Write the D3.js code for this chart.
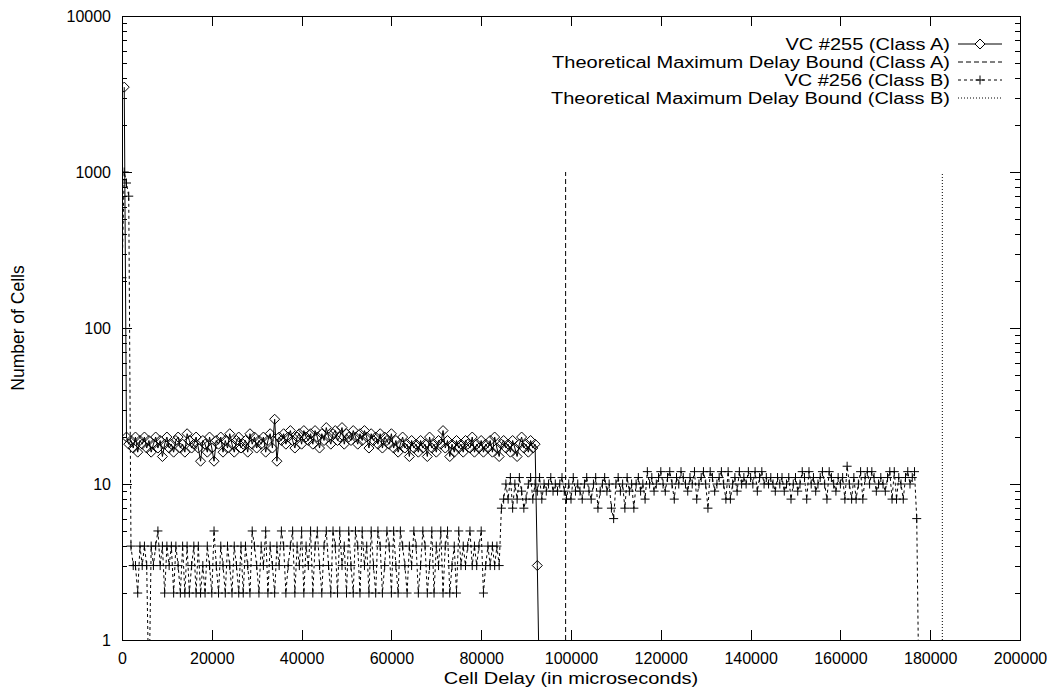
<!DOCTYPE html>
<html lang="en">
<head>
<meta charset="UTF-8">
<title>Cell delay distribution</title>
<style>
  body { margin: 0; background: #fff; }
  svg { display: block; font-family: "Liberation Sans", Arial, sans-serif; }
</style>
</head>
<body>
<script src="https://cdnjs.cloudflare.com/ajax/libs/d3/7.8.2/d3.min.js"></script>
<script>
// histogram bins are 500 microseconds wide
const binWidth = 500;

// VC #255 (Class A)
const vc255Spike = [{delay: 500, cells: 3500}];
const vc255Start = 1000;
const vc255Cells = [
  20,18,19,17,20,16,19,18,20,17, 19,16,18,20,17,19,15,18,20,17,
  18,16,19,20,17,18,16,21,19,17, 18,20,17,14,19,18,16,20,17,14,
  19,18,20,16,19,17,21,18,16,19, 20,17,18,19,16,21,18,20,17,19,
  18,20,16,19,21,17,26,14,20,19, 21,18,20,22,19,17,20,21,18,22,
  20,19,21,18,22,20,17,21,19,23, 20,18,21,22,19,20,23,18,21,20,
  19,22,20,18,21,19,22,20,17,21, 19,20,18,21,17,20,19,18,21,17,
  19,16,18,20,17,18,15,19,17,18, 16,19,17,18,15,20,17,18,16,19,
  18,22,17,19,15,18,16,19,17,18, 16,19,18,17,20,16,18,17,19,16,
  18,17,19,16,20,17,15,18,19,17, 18,16,19,17,15,18,20,17,18,16,
  19,17,18
];
const vc255Tail = [{delay: 92500, cells: 3}, {delay: 93000, cells: 0}];

// VC #256 (Class B)
const vc256Head = [
  {delay: 0, cells: 210}, {delay: 500, cells: 1000},
  {delay: 1000, cells: 850}, {delay: 1500, cells: 700}
];
const vc256LowStart = 2000;
const vc256Low = [
  4,3,3,2,4,3,4,3,0,4, 3,4,5,3,4,2,4,3,4,2,
  4,3,2,4,2,4,2,3,4,2, 4,2,3,2,4,3,2,5,3,2,
  4,3,2,4,3,2,4,3,2,4, 2,4,3,2,5,4,3,2,4,3,
  5,2,4,3,2,4,3,5,4,2, 3,4,5,2,4,3,5,2,4,3,
  5,2,4,5,3,2,4,5,3,2, 5,4,2,5,3,4,2,5,3,2,
  5,4,2,5,3,4,2,5,3,2, 5,4,2,3,5,4,2,5,3,2,
  5,4,3,2,4,3,5,4,2,3, 5,4,2,3,5,2,4,3,5,2,
  4,5,2,3,4,2,5,3,4,3, 4,5,3,4,3,4,5,2,3,4,
  3,4,3,4,3
];
const vc256HighStart = 84500;
const vc256High = [
  7,8,10,8,11,7,10,8,11,9,    7,8,10,11,8,10,9,11,8,10,
  9,10,11,9,10,9,10,11,9,8,   10,8,11,9,10,9,8,10,11,9,
  8,10,11,7,9,10,11,9,10,7,   6,10,11,9,10,7,11,9,10,7,
  10,11,9,10,8,12,10,11,9,10, 11,12,10,9,11,12,10,8,11,10,
  12,11,10,9,11,10,12,8,10,11, 12,10,7,12,11,9,10,11,12,10,
  8,12,8,10,11,9,12,10,11,10, 12,11,10,12,9,11,12,10,11,10,
  11,10,9,11,10,11,9,10,11,8, 10,11,9,10,12,11,8,12,10,11,
  9,10,11,12,10,8,12,11,10,9, 11,10,11,8,13,10,8,11,8,10,
  12,8,11,12,10,12,11,9,10,11, 10,9,11,12,8,12,8,11,10,8,
  11,12,10,11,12,6
];
const vc256Tail = [{delay: 177500, cells: 0}];

// theoretical bounds (microseconds), drawn up to 1000 cells
const boundA = 98800;
const boundB = 182700;
const boundTop = 1000;

const xTicks = [0, 20000, 40000, 60000, 80000, 100000, 120000, 140000, 160000, 180000, 200000];
const yTicks = [1, 10, 100, 1000, 10000];

const legendLabels = [
  "VC #255 (Class A)",
  "Theoretical Maximum Delay Bound (Class A)",
  "VC #256 (Class B)",
  "Theoretical Maximum Delay Bound (Class B)"
];

const bins = (start, cells) => cells.map((c, i) => ({delay: start + i * binWidth, cells: c}));
const seriesA = [...vc255Spike, ...bins(vc255Start, vc255Cells), ...vc255Tail];
const seriesB = [...vc256Head, ...bins(vc256LowStart, vc256Low), ...bins(vc256HighStart, vc256High), ...vc256Tail];

const W = 1062, H = 688;
const margin = {top: 16, right: 42, bottom: 48, left: 122};
const w = W - margin.left - margin.right;
const h = H - margin.top - margin.bottom;

const svg = d3.select("body").append("svg")
  .attr("width", W)
  .attr("height", H);

const g = svg.append("g")
  .attr("transform", `translate(${margin.left},${margin.top})`);

const x = d3.scaleLinear().domain([0, 200000]).range([0, w]);
const y = d3.scaleLog().domain([1, 10000]).range([h, 0]);
// empty bins sit below the frame and get clipped
const yPos = v => v > 0 ? y(v) : h + 60;

g.append("clipPath").attr("id", "plot")
  .append("rect").attr("width", w).attr("height", h);

// axes, ticks pointing inward like gnuplot
const minor = [];
[1, 10, 100, 1000].forEach(d => { for (let k = 2; k < 10; k++) minor.push(k * d); });

g.append("g")
  .attr("transform", `translate(0,${h})`)
  .call(d3.axisBottom(x).tickValues(xTicks).tickSize(-10).tickPadding(13).tickFormat(d3.format("d")));
g.append("g")
  .call(d3.axisTop(x).tickValues(xTicks).tickSize(-10).tickFormat(""));
g.append("g")
  .call(d3.axisLeft(y).tickValues(yTicks).tickSize(-10).tickPadding(11).tickFormat(d3.format("d")));
g.append("g")
  .call(d3.axisLeft(y).tickValues(minor).tickSize(-5).tickFormat(""));
g.append("g")
  .attr("transform", `translate(${w},0)`)
  .call(d3.axisRight(y).tickValues(yTicks).tickSize(-10).tickFormat(""));
g.append("g")
  .attr("transform", `translate(${w},0)`)
  .call(d3.axisRight(y).tickValues(minor).tickSize(-5).tickFormat(""));

g.selectAll(".domain").remove();
g.selectAll(".tick line").attr("stroke", "#000").attr("shape-rendering", "crispEdges");
g.selectAll(".tick text").attr("font-size", 16).attr("fill", "#000").attr("font-family", null);

g.append("rect")
  .attr("width", w).attr("height", h)
  .attr("fill", "none").attr("stroke", "#000")
  .attr("shape-rendering", "crispEdges");

// data
const line = d3.line().x(d => x(d.delay)).y(d => yPos(d.cells));
const plot = g.append("g").attr("clip-path", "url(#plot)");

const diamond = "M0,-5L5,0L0,5L-5,0Z";
const plus = "M-4.5,0H4.5M0,-4.5V4.5";

plot.append("path")
  .datum(seriesA)
  .attr("d", line)
  .attr("fill", "none").attr("stroke", "#000").attr("stroke-width", 1);
plot.selectAll(".ptA")
  .data(seriesA.filter(d => d.cells > 0))
  .enter().append("path")
    .attr("class", "ptA")
    .attr("d", diamond)
    .attr("transform", d => `translate(${x(d.delay)},${y(d.cells)})`)
    .attr("fill", "none").attr("stroke", "#000");

plot.append("line")
  .attr("x1", x(boundA)).attr("x2", x(boundA))
  .attr("y1", y(1)).attr("y2", y(boundTop))
  .attr("stroke", "#000").attr("stroke-dasharray", "5,3");

plot.append("path")
  .datum(seriesB)
  .attr("d", line)
  .attr("fill", "none").attr("stroke", "#000").attr("stroke-dasharray", "3,3");
plot.selectAll(".ptB")
  .data(seriesB.filter(d => d.cells > 0))
  .enter().append("path")
    .attr("class", "ptB")
    .attr("d", plus)
    .attr("transform", d => `translate(${x(d.delay)},${y(d.cells)})`)
    .attr("fill", "none").attr("stroke", "#000");

plot.append("line")
  .attr("x1", x(boundB)).attr("x2", x(boundB))
  .attr("y1", y(1)).attr("y2", y(boundTop))
  .attr("stroke", "#000").attr("stroke-dasharray", "1,2");

// axis titles (the original lettering is drawn wide, hence the x-stretch)
svg.append("text")
  .attr("transform", `translate(${margin.left + w / 2},684) scale(1.25,1)`)
  .attr("text-anchor", "middle").attr("font-size", 16)
  .text("Cell Delay (in microseconds)");
svg.append("text")
  .attr("transform", `translate(24,${margin.top + h / 2}) rotate(-90)`)
  .attr("text-anchor", "middle").attr("font-size", 17.5)
  .text("Number of Cells");

// legend
const dashes = [null, "5,3", "3,3", "1,2"];
const marks = [diamond, null, plus, null];
const legend = svg.append("g");
legendLabels.forEach((label, i) => {
  const ly = 44 + i * 18;
  legend.append("text")
    .attr("transform", `translate(950,${ly}) scale(1.25,1)`)
    .attr("dy", "0.35em")
    .attr("text-anchor", "end").attr("font-size", 16)
    .text(label);
  legend.append("line")
    .attr("x1", 958).attr("x2", 1002).attr("y1", ly).attr("y2", ly)
    .attr("stroke", "#000").attr("stroke-dasharray", dashes[i]);
  if (marks[i]) {
    legend.append("path")
      .attr("d", marks[i])
      .attr("transform", `translate(980,${ly})`)
      .attr("fill", "#fff").attr("stroke", "#000");
  }
});
</script>
</body>
</html>
